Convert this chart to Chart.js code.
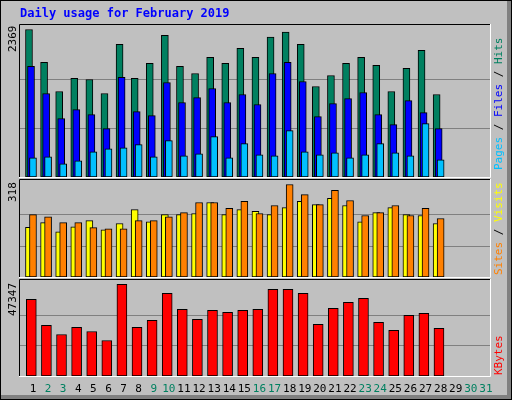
<!DOCTYPE html>
<html><head><meta charset="utf-8">
<script src="https://cdn.jsdelivr.net/npm/chart.js@4/dist/chart.umd.min.js"></script>
<style>body{margin:0;background:#c0c0c0}#wrap{position:relative;width:512px;height:400px}canvas{position:absolute}</style>
</head><body><div id="wrap">
<canvas id="bg" width="512" height="400" style="left:0;top:0"></canvas>
<canvas id="c1" width="470" height="152" style="left:20px;top:25px"></canvas>
<canvas id="c2" width="470" height="97" style="left:20px;top:180px"></canvas>
<canvas id="c3" width="470" height="96" style="left:20px;top:280px"></canvas>
</div>
<script>
const days = Array.from({length:31},(_,i)=>i+1);
const weekendDays = [2,3,9,10,16,17,23,24,30,31];
const hits  = [2369,1840,1373,1583,1566,1341,2130,1583,1824,2275,1776,1663,1921,1824,2066,1921,2246,2327,2130,1454,1631,1824,1921,1792,1373,1744,2033,1325];
const files = [1776,1341,938,1083,1002,777,1599,1051,986,1518,1196,1276,1421,1196,1325,1164,1663,1840,1534,970,1180,1260,1357,1002,841,1228,1034,777];
const pages = [309,325,213,261,406,454,470,519,325,583,341,374,648,309,535,358,341,745,406,358,390,309,358,535,390,341,857,277];
const visits= [168,184,153,170,191,160,181,228,187,211,211,215,252,211,228,222,211,235,256,245,266,242,187,218,235,211,208,181];
const sites = [211,204,184,184,167,163,163,191,191,204,218,252,252,232,256,215,242,313,279,245,293,259,208,218,242,208,232,198];
const kbytes= [39580,26110,21450,25070,23000,18340,47347,25070,28700,42690,34400,29220,33880,32840,33880,34400,44760,44760,42690,26630,34920,38020,40100,27660,23520,31290,32330,24560];
const maxHits = 2369, maxVisits = 318, maxKB = 47347;
const title = "Daily usage for February 2019";

const pts=(arr,off)=>arr.map((v,i)=>({x:i+1+off,y:v}));
const ds=(arr,off,color,w,ord)=>({data:pts(arr,off),backgroundColor:color,borderColor:'#000',borderWidth:1,barThickness:w,grouped:false,borderSkipped:false,order:ord});
const grid={id:'grid',beforeDatasetsDraw(ch,a,o){const c=ch.ctx,y=ch.scales.y,m=o.max;c.save();c.strokeStyle='#808080';c.lineWidth=1;
 [m/3,2*m/3].forEach(v=>{const p=Math.round(y.getPixelForValue(v))+0.5;c.beginPath();c.moveTo(0,p);c.lineTo(ch.width,p);c.stroke();});c.restore();}};
function mk(id,datasets,ymax,m){
 return new Chart(document.getElementById(id),{type:'bar',data:{datasets},plugins:[grid],
  options:{responsive:false,animation:false,devicePixelRatio:1,layout:{padding:0},
   plugins:{legend:{display:false},tooltip:{enabled:false},grid:{max:m}},
   scales:{x:{type:'linear',offset:false,min:0.14,max:31.27,display:false},y:{min:0,max:ymax,display:false}}}});
}
const c1=mk('c1',[ds(hits,-0.265,'#008060',7,3),ds(files,-0.13,'#0000ff',7,2),ds(pages,0,'#00c0ff',7,1)],maxHits*151.5/147,maxHits);
const c2=mk('c2',[ds(visits,-0.265,'#ffff00',7,2),ds(sites,0,'#ff8000',7,1)],maxVisits*96.3/93.3,maxVisits);
const c3=mk('c3',[ds(kbytes,-0.11,'#ff0000',10,1)],maxKB*95.7/91.4,maxKB);

const g=document.getElementById('bg').getContext('2d');
g.fillStyle='#c0c0c0';g.fillRect(0,0,512,400);
g.strokeStyle='#000';g.strokeRect(0.5,0.5,511,399);
g.fillStyle='#808080';g.fillRect(507,1,4,398);g.fillRect(1,395,510,4);
function frame(x,y,w,h){g.strokeStyle='#000';g.beginPath();g.moveTo(x+0.5,y+h);g.lineTo(x+0.5,y+0.5);g.lineTo(x+w,y+0.5);g.stroke();
 g.strokeStyle='#fff';g.beginPath();g.moveTo(x+w+0.5,y);g.lineTo(x+w+0.5,y+h+0.5);g.lineTo(x,y+h+0.5);g.stroke();}
frame(19,24,471,153);frame(19,179,471,98);frame(19,279,471,97);
g.font='bold 12px "DejaVu Sans Mono"';g.fillStyle='#0000ff';g.textBaseline='alphabetic';g.fillText(title,20,17);
function vtext(parts,x,y,font){g.save();g.translate(x,y);g.rotate(-Math.PI/2);g.font=font;g.textBaseline='middle';let cx=0;
 parts.forEach(([t,c])=>{g.fillStyle=c;g.fillText(t,cx,0);cx+=g.measureText(t).width;});g.restore();}
const lf='11px "DejaVu Sans Mono"';
vtext([[String(maxHits),'#000']],13,52,lf);
vtext([[String(maxVisits),'#000']],13,202,lf);
vtext([[String(maxKB),'#000']],13,316,lf);
vtext([['Pages','#00c0ff'],[' / ','#000'],['Files','#0000ff'],[' / ','#000'],['Hits','#008060']],499,170,lf);
vtext([['Sites','#ff8000'],[' / ','#000'],['Visits','#ffff00']],499,275,lf);
vtext([['KBytes','#ff0000']],499,375,lf);
g.font='11px "DejaVu Sans Mono"';g.textAlign='center';g.textBaseline='middle';
days.forEach(d=>{g.fillStyle=weekendDays.includes(d)?'#008060':'#000';g.fillText(String(d),20+c3.scales.x.getPixelForValue(d),389);});
</script></body></html>
